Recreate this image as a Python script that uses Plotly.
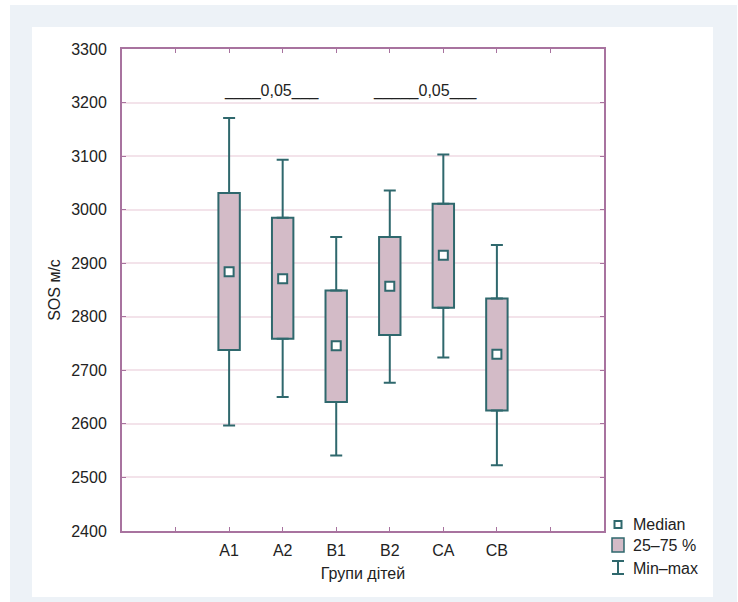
import plotly.graph_objects as go

groups = ["A1", "A2", "B1", "B2", "CA", "CB"]
positions = [2, 3, 4, 5, 6, 7]
v_min = [2597, 2650, 2541, 2677, 2724, 2523]
v_q1 = [2738, 2759, 2641, 2766, 2817, 2625]
v_med = [2884, 2871, 2746, 2857, 2915, 2730]
v_q3 = [3031, 2985, 2849, 2949, 3011, 2834]
v_max = [3171, 3093, 2949, 3036, 3103, 2934]

x_tickvals = [1, 2, 3, 4, 5, 6, 7, 8]
x_ticktext = [""] + groups + [""]
y_tickvals = [2400, 2500, 2600, 2700, 2800, 2900, 3000, 3100, 3200, 3300]

TEAL = "#2f686d"
PINK = "#d3bbc7"
AXIS = "#a8739f"
GRID = "#f3e3ea"
FONT = "Liberation Sans, Arial, sans-serif"
TXT = "#222222"

W, H = 738, 602
L, R, T, B = 122, 604, 49, 531


def px(xp):
    return (xp - L) / (R - L)


def py(yp):
    return (B - yp) / (B - T)


fig = go.Figure()

# lower whiskers
fig.add_trace(go.Scatter(
    x=positions, y=v_q1, mode="markers",
    marker=dict(size=1, color="rgba(0,0,0,0)"),
    error_y=dict(type="data", symmetric=False,
                 array=[0] * len(v_q1),
                 arrayminus=[a - b for a, b in zip(v_q1, v_min)],
                 color=TEAL, thickness=2, width=6),
    showlegend=False, hoverinfo="skip"))
# upper whiskers
fig.add_trace(go.Scatter(
    x=positions, y=v_q3, mode="markers",
    marker=dict(size=1, color="rgba(0,0,0,0)"),
    error_y=dict(type="data", symmetric=False,
                 array=[a - b for a, b in zip(v_max, v_q3)],
                 arrayminus=[0] * len(v_q3),
                 color=TEAL, thickness=2, width=6),
    showlegend=False, hoverinfo="skip"))
# boxes
fig.add_trace(go.Bar(
    x=positions, y=[a - b for a, b in zip(v_q3, v_q1)], base=v_q1,
    width=0.4, marker=dict(color=PINK, line=dict(color=TEAL, width=2)),
    showlegend=False))
# medians
fig.add_trace(go.Scatter(
    x=positions, y=v_med, mode="markers",
    marker=dict(symbol="square", size=9, color="white",
                line=dict(color=TEAL, width=2)),
    showlegend=False))

axis_common = dict(
    showline=True, linecolor=AXIS, linewidth=2, mirror="ticks",
    ticks="inside", ticklen=4, tickcolor=AXIS, tickwidth=1,
    tickfont=dict(family=FONT, size=16, color=TXT),
    zeroline=False,
)

fig.update_xaxes(range=[0, 9], tickvals=x_tickvals, ticktext=x_ticktext,
                 showgrid=False, ticklabelstandoff=4,
                 title=dict(text="Групи дітей", font=dict(family=FONT, size=16, color=TXT),
                            standoff=10),
                 **axis_common)
fig.update_yaxes(range=[2400, 3300], tickvals=y_tickvals,
                 showgrid=True, gridcolor=GRID, gridwidth=2,
                 ticklabelstandoff=10,
                 title=dict(text="SOS м/с", font=dict(family=FONT, size=16, color=TXT),
                            standoff=7),
                 **axis_common)

shapes = [
    # gray frame
    dict(type="rect", xref="paper", yref="paper", layer="below",
         x0=px(10), x1=px(737), y0=py(5), y1=py(603),
         fillcolor="#edf2f7", line=dict(width=0)),
    # white panel
    dict(type="rect", xref="paper", yref="paper", layer="below",
         x0=px(32), x1=px(713), y0=py(27), y1=py(597),
         fillcolor="white", line=dict(width=0)),
    # legend: median marker
    dict(type="rect", xref="paper", yref="paper",
         x0=px(614.5), x1=px(621.5), y0=py(521), y1=py(528),
         fillcolor="white", line=dict(color=TEAL, width=2)),
    # legend: box
    dict(type="rect", xref="paper", yref="paper",
         x0=px(612), x1=px(624), y0=py(538), y1=py(552),
         fillcolor=PINK, line=dict(color=TEAL, width=1.5)),
    # legend: whisker
    dict(type="line", xref="paper", yref="paper",
         x0=px(618), x1=px(618), y0=py(561), y1=py(574),
         line=dict(color=TEAL, width=2)),
    dict(type="line", xref="paper", yref="paper",
         x0=px(612), x1=px(624), y0=py(561), y1=py(561),
         line=dict(color=TEAL, width=2)),
    dict(type="line", xref="paper", yref="paper",
         x0=px(612), x1=px(624), y0=py(574), y1=py(574),
         line=dict(color=TEAL, width=2)),
]

annotations = [
    dict(text="____0,05___", x=2.80, y=3222, xref="x", yref="y",
         showarrow=False, font=dict(family=FONT, size=16, color=TXT)),
    dict(text="_____0,05___", x=5.65, y=3222, xref="x", yref="y",
         showarrow=False, font=dict(family=FONT, size=16, color=TXT)),
]
for label, yy in [("Median", 524), ("25–75 %", 545), ("Min–max", 568)]:
    annotations.append(dict(text=label, x=px(631), y=py(yy), xref="paper", yref="paper",
                            xanchor="left", yanchor="middle", showarrow=False,
                            font=dict(family=FONT, size=16, color=TXT)))

fig.update_layout(
    width=W, height=H,
    margin=dict(l=L, r=W - R, t=T, b=H - B, pad=0),
    paper_bgcolor="white", plot_bgcolor="white",
    shapes=shapes, annotations=annotations,
    showlegend=False, barmode="overlay",
)

fig.write_html("out.html", config={"displayModeBar": False},
               post_script="document.body.style.margin='0';")
